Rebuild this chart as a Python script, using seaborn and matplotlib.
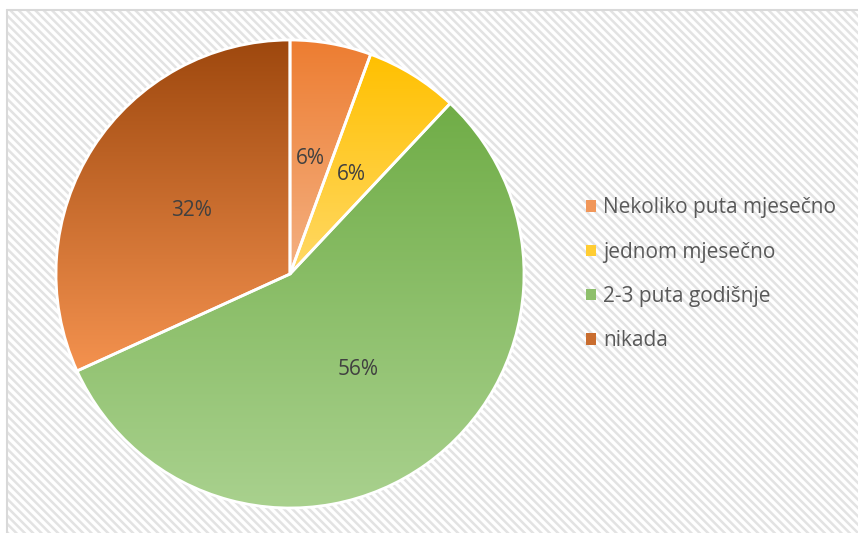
import numpy as np
import matplotlib
matplotlib.use("Agg")
import matplotlib.pyplot as plt
from matplotlib.colors import LinearSegmentedColormap, to_rgb
from matplotlib.patches import Rectangle
from matplotlib.lines import Line2D
import seaborn as sns

# data (percent shares, clockwise from 12 o'clock)
categories = ["Nekoliko puta mjesečno", "jednom mjesečno", "2-3 puta godišnje", "nikada"]
shares = [5.6, 6.4, 56.2, 31.8]
top_colors = ["#ED7D31", "#FFC000", "#70AD47", "#9E480E"]
bottom_colors = ["#F4B183", "#FFD966", "#A9D18E", "#F4924F"]

sns.set_theme(style="white")
plt.rcParams["font.family"] = ["Open Sans", "DejaVu Sans"]
plt.rcParams["hatch.linewidth"] = 1.8

W, H = 858, 533
fig = plt.figure(figsize=(W / 100, H / 100), dpi=100)
fig.patch.set_facecolor("white")

# patterned chart area with border on left/top
bg = Rectangle((7 / W, 0), 1, (H - 10) / H, transform=fig.transFigure,
               facecolor="white", edgecolor="#E3E3E3", hatch="\\\\\\\\", lw=0, zorder=-2)
fig.add_artist(bg)
fig.add_artist(Line2D([7 / W, 7 / W], [0, (H - 10) / H], color="#D9D9D9", lw=1.5, zorder=-1))
fig.add_artist(Line2D([7 / W, 1], [(H - 10) / H] * 2, color="#D9D9D9", lw=1.5, zorder=-1))

cx, cy, r = 290, 274, 234
ax = fig.add_axes([(cx - r) / W, (H - cy - r) / H, 2 * r / W, 2 * r / H])

wedges, texts, autotexts = ax.pie(shares, startangle=90, counterclock=False,
                                  autopct="%1.0f%%", pctdistance=0.5,
                                  wedgeprops=dict(edgecolor="white", linewidth=2))

grad = np.linspace(0, 1, 256).reshape(-1, 1)
for w, c0, c1 in zip(wedges, top_colors, bottom_colors):
    w.set_facecolor("none")
    w.set_zorder(2)
    bb = w.get_path().get_extents()
    cmap = LinearSegmentedColormap.from_list("g", [c0, c1])
    im = ax.imshow(grad, cmap=cmap, extent=[bb.x0, bb.x1, bb.y0, bb.y1],
                   origin="upper", aspect="auto", zorder=1)
    im.set_clip_path(w)

for t in autotexts:
    t.set_color("#404040")
    t.set_fontsize(15)
    t.set_zorder(3)

ax.set_xlim(-1, 1)
ax.set_ylim(-1, 1)
ax.axis("off")

handles = []
for c0, c1 in zip(top_colors, bottom_colors):
    mid = tuple((a + b) / 2 for a, b in zip(to_rgb(c0), to_rgb(c1)))
    handles.append(Rectangle((0, 0), 1, 1, facecolor=mid, edgecolor="none"))

fig.legend(handles, categories, loc="center left", bbox_to_anchor=(586 / W, (H - 274.5) / H),
           frameon=False, fontsize=15, handlelength=0.46, handleheight=0.46,
           handletextpad=0.35, labelspacing=1.12, borderpad=0, borderaxespad=0,
           labelcolor="#595959")

fig.savefig("out.png", dpi=100)
